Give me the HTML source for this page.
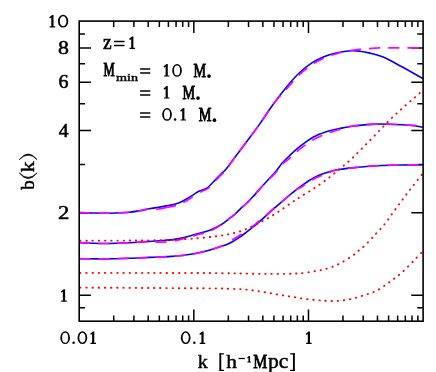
<!DOCTYPE html>
<html><head><meta charset="utf-8"><title>b(k)</title>
<style>html,body{margin:0;padding:0;background:#fff;}svg{display:block;}text{font-family:"Liberation Serif",serif;fill:#000;stroke:#000;}</style>
</head><body>
<svg width="436" height="372" viewBox="0 0 436 372">
<rect x="0" y="0" width="436" height="372" fill="#fff"/>
<defs><clipPath id="c"><rect x="79.20" y="21.10" width="343.90" height="300.10"/></clipPath></defs>
<path d="M113.71 321.20v-5.80M113.71 21.10v5.80M133.89 321.20v-5.80M133.89 21.10v5.80M148.22 321.20v-5.80M148.22 21.10v5.80M159.33 321.20v-5.80M159.33 21.10v5.80M168.40 321.20v-5.80M168.40 21.10v5.80M176.08 321.20v-5.80M176.08 21.10v5.80M182.72 321.20v-5.80M182.72 21.10v5.80M188.59 321.20v-5.80M188.59 21.10v5.80M193.83 321.20v-11.80M193.83 21.10v11.80M228.34 321.20v-5.80M228.34 21.10v5.80M248.53 321.20v-5.80M248.53 21.10v5.80M262.85 321.20v-5.80M262.85 21.10v5.80M273.96 321.20v-5.80M273.96 21.10v5.80M283.04 321.20v-5.80M283.04 21.10v5.80M290.71 321.20v-5.80M290.71 21.10v5.80M297.36 321.20v-5.80M297.36 21.10v5.80M303.22 321.20v-5.80M303.22 21.10v5.80M308.47 321.20v-11.80M308.47 21.10v11.80M342.97 321.20v-5.80M342.97 21.10v5.80M363.16 321.20v-5.80M363.16 21.10v5.80M377.48 321.20v-5.80M377.48 21.10v5.80M388.59 321.20v-5.80M388.59 21.10v5.80M397.67 321.20v-5.80M397.67 21.10v5.80M405.34 321.20v-5.80M405.34 21.10v5.80M411.99 321.20v-5.80M411.99 21.10v5.80M417.85 321.20v-5.80M417.85 21.10v5.80M79.20 307.83h5.80M423.10 307.83h-5.80M79.20 295.30h11.80M423.10 295.30h-11.80M79.20 212.85h11.80M423.10 212.85h-11.80M79.20 164.62h5.80M423.10 164.62h-5.80M79.20 130.40h11.80M423.10 130.40h-11.80M79.20 103.85h5.80M423.10 103.85h-5.80M79.20 82.16h11.80M423.10 82.16h-11.80M79.20 63.83h5.80M423.10 63.83h-5.80M79.20 47.94h11.80M423.10 47.94h-11.80M79.20 33.93h5.80M423.10 33.93h-5.80" stroke="#000" stroke-width="1.5" fill="none"/>
<g clip-path="url(#c)" fill="none">
<path d="M79.10 212.60 C81.25 212.67 87.93 212.90 92.00 213.00 C96.07 213.10 99.50 213.20 103.50 213.20 C107.50 213.20 111.72 213.15 116.00 213.00 C120.28 212.85 125.20 212.68 129.20 212.30 C133.20 211.92 136.63 211.28 140.00 210.70 C143.37 210.12 146.30 209.37 149.40 208.80 C152.50 208.23 155.83 207.78 158.60 207.30 C161.37 206.82 163.62 206.35 166.00 205.90 C168.38 205.45 170.60 205.15 172.90 204.60 C175.20 204.05 177.52 203.53 179.80 202.60 C182.08 201.67 184.32 200.33 186.60 199.00 C188.88 197.67 191.43 195.90 193.50 194.60 C195.57 193.30 197.25 192.07 199.00 191.20 C200.75 190.33 202.40 190.13 204.00 189.40 C205.60 188.67 207.02 188.07 208.60 186.80 C210.18 185.53 211.43 183.93 213.50 181.80 C215.57 179.67 218.92 176.10 221.00 174.00 C223.08 171.90 223.80 171.83 226.00 169.20 C228.20 166.57 230.73 162.82 234.20 158.20 C237.67 153.58 242.50 147.27 246.80 141.50 C251.10 135.73 255.48 129.97 260.00 123.60 C264.52 117.23 269.47 109.42 273.90 103.30 C278.33 97.18 282.38 91.95 286.60 86.90 C290.82 81.85 294.98 77.00 299.20 73.00 C303.42 69.00 307.68 65.65 311.90 62.90 C316.12 60.15 320.30 58.18 324.50 56.50 C328.70 54.82 332.68 53.75 337.10 52.80 C341.52 51.85 347.18 51.07 351.00 50.80 C354.82 50.53 357.00 50.85 360.00 51.20 C363.00 51.55 364.97 51.87 369.00 52.90 C373.03 53.93 378.72 55.08 384.20 57.40 C389.68 59.72 395.42 63.25 401.90 66.80 C408.38 70.35 419.57 76.72 423.10 78.70" stroke="#0000ff" stroke-width="1.6" stroke-linejoin="round"/>
<path d="M79.10 242.70 C81.25 242.78 87.93 243.07 92.00 243.20 C96.07 243.33 99.50 243.48 103.50 243.50 C107.50 243.52 111.72 243.43 116.00 243.30 C120.28 243.18 123.63 243.05 129.20 242.75 C134.77 242.45 144.50 241.84 149.40 241.50 C154.30 241.16 154.95 240.97 158.60 240.70 C162.25 240.43 167.08 240.42 171.30 239.90 C175.52 239.38 179.68 238.60 183.90 237.60 C188.12 236.60 192.38 235.07 196.60 233.90 C200.82 232.73 204.98 232.22 209.20 230.60 C213.42 228.98 218.67 226.12 221.90 224.20 C225.13 222.28 226.50 220.70 228.60 219.10 C230.70 217.50 232.38 216.47 234.50 214.60 C236.62 212.73 239.20 209.87 241.30 207.90 C243.40 205.93 245.00 204.85 247.10 202.80 C249.20 200.75 251.00 198.77 253.90 195.60 C256.80 192.43 260.82 187.87 264.50 183.80 C268.18 179.73 273.08 174.62 276.00 171.20 C278.92 167.78 279.97 165.67 282.00 163.30 C284.03 160.93 286.13 159.02 288.20 157.00 C290.27 154.98 292.33 153.05 294.40 151.20 C296.47 149.35 298.53 147.55 300.60 145.90 C302.67 144.25 304.73 142.73 306.80 141.30 C308.87 139.87 310.93 138.48 313.00 137.30 C315.07 136.12 317.13 135.08 319.20 134.20 C321.27 133.32 323.33 132.67 325.40 132.00 C327.47 131.33 329.35 130.75 331.60 130.20 C333.85 129.65 335.57 129.35 338.90 128.70 C342.23 128.05 347.38 126.93 351.60 126.30 C355.82 125.67 360.00 125.27 364.20 124.90 C368.40 124.53 372.63 124.22 376.80 124.10 C380.97 123.98 385.02 124.08 389.20 124.20 C393.38 124.32 397.68 124.53 401.90 124.80 C406.12 125.07 410.97 125.38 414.50 125.80 C418.03 126.22 421.67 127.05 423.10 127.30" stroke="#0000ff" stroke-width="1.6" stroke-linejoin="round"/>
<path d="M79.10 258.70 C83.17 258.73 95.15 258.97 103.50 258.90 C111.85 258.83 121.55 258.55 129.20 258.30 C136.85 258.05 144.50 257.60 149.40 257.40 C154.30 257.20 154.95 257.27 158.60 257.10 C162.25 256.93 167.08 256.70 171.30 256.40 C175.52 256.10 179.68 255.82 183.90 255.30 C188.12 254.78 192.38 254.13 196.60 253.30 C200.82 252.47 205.30 251.40 209.20 250.30 C213.10 249.20 217.17 247.63 220.00 246.70 C222.83 245.77 224.13 245.53 226.20 244.70 C228.27 243.87 230.33 242.83 232.40 241.70 C234.47 240.57 236.53 239.27 238.60 237.90 C240.67 236.53 242.73 235.05 244.80 233.50 C246.87 231.95 248.93 230.25 251.00 228.60 C253.07 226.95 255.13 225.35 257.20 223.60 C259.27 221.85 261.33 219.95 263.40 218.10 C265.47 216.25 267.83 214.08 269.60 212.50 C271.37 210.92 272.27 210.13 274.00 208.60 C275.73 207.07 278.08 204.97 280.00 203.30 C281.92 201.63 283.67 200.15 285.50 198.60 C287.33 197.05 289.25 195.47 291.00 194.00 C292.75 192.53 294.13 191.23 296.00 189.80 C297.87 188.37 300.13 186.87 302.20 185.40 C304.27 183.93 306.33 182.33 308.40 181.00 C310.47 179.67 312.53 178.47 314.60 177.40 C316.67 176.33 318.73 175.43 320.80 174.60 C322.87 173.77 324.93 173.05 327.00 172.40 C329.07 171.75 331.13 171.18 333.20 170.70 C335.27 170.22 337.33 169.85 339.40 169.50 C341.47 169.15 343.57 168.87 345.60 168.60 C347.63 168.33 348.50 168.22 351.60 167.90 C354.70 167.58 360.00 167.05 364.20 166.70 C368.40 166.35 372.63 166.03 376.80 165.80 C380.97 165.57 385.02 165.43 389.20 165.30 C393.38 165.17 396.25 165.10 401.90 165.00 C407.55 164.90 419.57 164.75 423.10 164.70" stroke="#0000ff" stroke-width="1.6" stroke-linejoin="round"/>
<path d="M79.30 212.61L80.03 212.63L81.06 212.66L82.28 212.70L83.63 212.75L85.08 212.80L86.57 212.84L88.08 212.89L89.54 212.93L90.49 212.96M98.70 213.15L99.64 213.17L100.78 213.18L101.93 213.19L103.10 213.20L104.30 213.20L105.52 213.20L106.74 213.19L107.98 213.18L109.23 213.16L109.90 213.15M118.10 212.93L119.31 212.88L120.66 212.83L122.03 212.77L123.38 212.70L124.73 212.63L126.05 212.55L127.34 212.46L128.59 212.36L129.28 212.29M137.40 211.15L138.31 210.99L139.33 210.82L140.34 210.64L141.32 210.45L142.29 210.23L143.24 210.01L144.18 209.79L145.11 209.56L146.03 209.36L146.94 209.16L147.86 209.00L148.37 208.92M183.30 202.60L183.88 202.27L184.56 201.89L185.24 201.50L185.92 201.10L186.60 200.70L187.29 200.29L188.00 199.86L188.71 199.41L189.42 198.95L190.13 198.49L190.84 198.03L191.53 197.57L192.21 197.13L192.83 196.72M200.15 192.29L200.63 192.05L201.14 191.80L201.64 191.56L202.14 191.32L202.63 191.09L203.11 190.85L203.60 190.61L204.08 190.36L204.55 190.12L205.02 189.89L205.48 189.67L205.93 189.45L206.38 189.22L206.83 188.98L207.29 188.71L207.74 188.42L208.21 188.10L208.68 187.74L209.14 187.34L209.59 186.93L209.81 186.72M215.70 180.51L216.43 179.74L217.24 178.89L218.06 178.04L218.85 177.21L219.62 176.41L220.34 175.67L221.00 175.00L221.59 174.43L222.11 173.96L222.58 173.57L223.03 173.21L223.46 172.86L223.69 172.67M228.61 166.49L229.36 165.35L230.17 164.11L231.02 162.81L231.92 161.47L232.86 160.09L233.86 158.68L234.91 157.23M239.68 150.89L240.84 149.36L242.17 147.62L243.50 145.87L244.84 144.11L246.15 142.37L246.45 141.97M251.20 135.62L252.44 133.95L253.76 132.18L255.08 130.39L256.41 128.58L257.75 126.74L257.85 126.60M262.46 120.04L263.69 118.20L265.10 116.08L266.51 113.94L267.92 111.81L268.66 110.71M273.26 104.14L274.56 102.45L275.87 100.82L277.16 99.27L278.44 97.80L279.70 96.39L280.45 95.57M285.90 89.68L287.02 88.43L288.28 86.99L289.54 85.55L290.80 84.09L292.06 82.65L293.28 81.25M298.80 75.38L300.04 74.21L301.31 73.05L302.58 71.93L303.85 70.85L305.13 69.80L306.40 68.79L307.30 68.10M313.91 63.49L315.06 62.78L316.32 62.04L317.58 61.33L318.84 60.65L320.09 60.00L321.35 59.37L322.61 58.77L323.78 58.22M331.30 55.33L332.40 54.97L333.67 54.56L334.88 54.19L336.03 53.83L337.10 53.50L338.08 53.20L338.99 52.93L339.83 52.70L340.62 52.49L341.37 52.30L342.03 52.14M349.91 50.67L350.63 50.57L351.38 50.46L352.13 50.35L352.87 50.25L353.61 50.14L354.34 50.03L355.07 49.92L355.79 49.82L356.52 49.72L357.26 49.62L358.02 49.52L358.79 49.43L359.59 49.34L360.41 49.26L361.01 49.20M369.00 48.60L370.00 48.53L371.01 48.45L372.03 48.37L373.06 48.29L374.12 48.21L375.22 48.14L376.34 48.07L377.51 48.00L378.73 47.95L380.00 47.90L380.18 47.89M388.19 47.80L389.68 47.80L391.39 47.80L393.28 47.80L395.37 47.80L397.85 47.80L399.39 47.79M407.40 47.79L410.54 47.79L413.78 47.80L416.81 47.80L418.60 47.80M155.80 208.98L156.58 209.02L157.47 209.04L158.32 209.02L159.15 208.95L159.94 208.86L160.72 208.74L161.47 208.60L162.20 208.45L162.92 208.28L163.64 208.12L164.35 207.95L165.05 207.79L165.76 207.65L166.47 207.51L167.18 207.39L167.88 207.26L168.57 207.15L169.25 207.03L169.94 206.91L170.62 206.78L171.30 206.65L171.98 206.51L172.67 206.35L173.36 206.19L174.05 206.03L174.74 205.86L175.43 205.69L176.00 205.54" stroke="#ff00ff" stroke-width="1.7"/>
<path d="M79.30 242.71L80.03 242.74L81.06 242.78L82.28 242.83L83.63 242.88L85.08 242.94L86.57 243.00L88.08 243.06L89.54 243.11L90.49 243.15M98.36 243.41L99.46 243.44L100.59 243.46L101.73 243.48L102.90 243.50L104.10 243.50L105.31 243.50L106.54 243.49L107.77 243.48L109.02 243.46L109.56 243.45M117.43 243.26L118.48 243.22L119.69 243.18L120.89 243.14L122.12 243.09L123.38 243.04L124.70 242.98L126.10 242.91L127.59 242.83L128.62 242.78M136.48 242.27L138.43 242.13L140.67 241.97L142.86 241.82L144.96 241.69L146.90 241.59L147.66 241.55M155.50 241.98L156.18 242.07L156.99 242.15L157.91 242.19L158.97 242.20L160.12 242.18L161.33 242.16L162.58 242.12L163.87 242.06L165.18 241.99L166.50 241.90L166.68 241.89M174.60 240.83L175.71 240.60L176.97 240.33L178.23 240.03L179.49 239.73L180.75 239.41L182.01 239.09L183.27 238.76L184.53 238.43L185.48 238.18M193.14 235.91L194.28 235.57L195.54 235.20L196.81 234.84L198.07 234.52L199.33 234.23L200.59 233.97L201.85 233.70L203.11 233.44L204.01 233.23M211.50 230.52L212.74 229.86L214.10 229.09L215.47 228.29L216.81 227.46L218.11 226.65L219.35 225.85L220.51 225.10L221.08 224.73M227.70 219.80L228.29 219.34L228.91 218.86L229.52 218.41L230.11 217.98L230.69 217.57L231.26 217.16L231.83 216.74L232.40 216.31L232.98 215.87L233.57 215.39L234.19 214.87L234.82 214.31L235.48 213.70L236.16 213.04L236.42 212.79M242.30 206.99L242.80 206.56L243.36 206.08L243.92 205.61L244.48 205.15L245.04 204.68L245.60 204.19L246.19 203.66L246.79 203.10L247.41 202.49L248.03 201.88L248.64 201.26L249.25 200.62L249.88 199.96L250.46 199.34M256.09 193.15L256.94 192.19L258.00 190.99L259.09 189.76L260.20 188.50L261.32 187.25L262.45 186.00L263.56 184.80M269.47 178.88L270.54 177.86L271.75 176.69L272.93 175.55L274.04 174.45L275.07 173.40L276.00 172.40L276.82 171.45L277.29 170.88M282.30 164.19L282.82 163.70L283.43 163.17L284.05 162.68L284.67 162.22L285.30 161.77L285.92 161.34L286.54 160.89L287.16 160.43L287.79 159.95L288.41 159.42L289.03 158.87L289.65 158.30L290.27 157.71L290.89 157.12L290.93 157.08M296.77 151.71L297.29 151.25L297.91 150.72L298.53 150.20L299.15 149.68L299.77 149.17L300.39 148.67L301.01 148.17L301.63 147.69L302.25 147.21L302.87 146.74L303.49 146.27L304.11 145.81L304.73 145.36L305.35 144.92L305.55 144.77M312.16 140.39L312.69 140.08L313.31 139.72L313.93 139.39L314.55 139.06L315.17 138.74L315.79 138.44L316.41 138.14L317.03 137.84L317.65 137.55L318.27 137.25L318.89 136.95L319.51 136.65L320.13 136.33L320.75 136.01L321.37 135.69L321.99 135.38L322.14 135.30M329.56 132.57L330.18 132.40L330.83 132.23L331.49 132.03L332.15 131.83L332.80 131.62L333.43 131.42L334.07 131.20L334.73 130.99L335.42 130.76L336.15 130.53L336.94 130.28L337.80 130.02L338.73 129.75L339.77 129.45L340.27 129.30M347.90 127.14L349.20 126.82L350.53 126.52L351.81 126.26L353.07 126.04L354.34 125.85L355.60 125.69L356.86 125.54L358.12 125.42L358.94 125.34M366.89 124.67L367.99 124.59L369.25 124.49L370.51 124.41L371.77 124.33L373.03 124.25L374.29 124.19L375.55 124.14L376.80 124.10L378.05 124.07L378.07 124.07M386.04 124.12L387.12 124.14L388.37 124.18L389.62 124.21L390.88 124.25L392.14 124.31L393.41 124.36L394.69 124.43L395.96 124.49L397.24 124.56M405.20 124.97L406.48 125.03L407.80 125.10L409.11 125.17L410.39 125.23L411.63 125.29L412.83 125.34L413.96 125.38L415.03 125.41L416.09 125.43L416.39 125.44" stroke="#ff00ff" stroke-width="1.7"/>
<path d="M79.30 258.70L80.55 258.72L82.40 258.74L84.59 258.77L87.04 258.80L89.69 258.84L90.50 258.85M98.36 258.91L100.90 258.91L103.50 258.90L106.04 258.87L108.64 258.84L109.56 258.82M117.41 258.65L119.69 258.59L122.28 258.51L124.81 258.44L127.25 258.36L128.61 258.32M136.46 258.01L138.56 257.92L140.68 257.81L142.71 257.71L144.64 257.62L146.44 257.53L147.65 257.48M155.50 257.21L156.18 257.19L156.99 257.17L157.91 257.13L158.97 257.08L160.12 257.03L161.33 256.97L162.58 256.91L163.87 256.85L165.18 256.78L166.50 256.70L166.69 256.69M174.68 256.16L175.92 256.06L177.18 255.97L178.44 255.86L179.70 255.75L180.96 255.63L182.22 255.49L183.48 255.35L184.74 255.19L185.82 255.06M193.74 253.84L194.91 253.62L196.18 253.38L197.45 253.13L198.73 252.86L200.01 252.59L201.30 252.30L202.59 252.00L203.87 251.69L204.69 251.49M212.40 249.32L213.49 248.96L214.63 248.57L215.74 248.18L216.81 247.80L217.83 247.44L218.80 247.10L219.71 246.80L220.55 246.53L221.30 246.31L221.98 246.13L222.61 245.97L223.05 245.87M232.21 239.94L232.81 239.52L233.43 239.11L234.05 238.72L234.67 238.35L235.29 237.99L235.91 237.63L236.53 237.27L237.15 236.90L237.77 236.53L238.39 236.14L239.01 235.72L239.63 235.30L240.25 234.86L240.87 234.41L241.49 233.96L241.61 233.87M250.80 227.74L251.41 227.30L252.03 226.82L252.65 226.34L253.27 225.84L253.89 225.33L254.51 224.82L255.13 224.30L255.75 223.79L256.37 223.27L256.99 222.77L257.61 222.27L258.23 221.77L258.85 221.28L259.47 220.79L259.54 220.74M266.03 215.26L266.61 214.73L267.25 214.15L267.87 213.57L268.48 213.02L269.05 212.49L269.60 212.00L270.11 211.55L270.57 211.13L271.00 210.73L271.41 210.36L271.81 210.00L272.21 209.64L272.62 209.28L273.05 208.91L273.50 208.52L274.00 208.10L274.38 207.79M281.00 202.46L281.50 202.04L282.05 201.57L282.60 201.09L283.14 200.62L283.69 200.16L284.23 199.69L284.77 199.22L285.32 198.76L285.87 198.29L286.42 197.82L286.98 197.36L287.54 196.89L288.10 196.42L288.65 195.96L289.20 195.50L289.54 195.22M295.59 190.08L296.09 189.74L296.67 189.39L297.26 189.06L297.87 188.75L298.50 188.46L299.13 188.16L299.77 187.87L300.41 187.57L301.05 187.25L301.68 186.91L302.30 186.54L302.92 186.14L303.54 185.71L304.16 185.27L304.78 184.81L305.24 184.47M311.85 180.10L312.43 179.77L313.05 179.43L313.67 179.09L314.29 178.76L314.91 178.44L315.53 178.13L316.15 177.83L316.77 177.54L317.39 177.25L318.01 176.97L318.63 176.70L319.25 176.44L319.87 176.18L320.49 175.93L321.11 175.68L321.73 175.44L321.99 175.35M329.36 172.47L329.89 172.19L330.51 171.88L331.13 171.57L331.75 171.27L332.37 171.01L332.99 170.77L333.61 170.57L334.23 170.40L334.85 170.25L335.47 170.12L336.09 170.01L336.71 169.91L337.33 169.81L337.95 169.72L338.57 169.63L339.19 169.53L339.81 169.43L340.04 169.39M347.90 168.30L348.37 168.25L348.92 168.18L349.53 168.12L350.22 168.04L351.01 167.96L351.92 167.87L352.95 167.76L354.09 167.65L355.31 167.53L356.60 167.40L357.94 167.27L359.04 167.16M367.65 166.42L368.83 166.33L370.09 166.24L371.35 166.15L372.61 166.06L373.87 165.98L375.13 165.90L376.38 165.82L377.63 165.75L378.83 165.69M387.46 165.36L388.57 165.32L389.82 165.28L391.01 165.24L392.15 165.21L393.28 165.18L394.42 165.15L395.59 165.12L396.81 165.10L398.12 165.07L398.66 165.06M407.30 164.92L409.54 164.88L412.04 164.85L414.53 164.81L416.91 164.78L418.50 164.76" stroke="#ff00ff" stroke-width="1.7"/>
<path d="M79.10 240.70 C85.92 240.68 108.85 240.65 120.00 240.60 C131.15 240.55 137.45 240.53 146.00 240.40 C154.55 240.27 162.87 240.15 171.30 239.80 C179.73 239.45 189.15 238.88 196.60 238.30 C204.05 237.72 210.67 236.98 216.00 236.30 C221.33 235.62 224.38 235.08 228.60 234.20 C232.82 233.32 237.08 232.43 241.30 231.00 C245.52 229.57 249.68 227.62 253.90 225.60 C258.12 223.58 262.38 221.30 266.60 218.90 C270.82 216.50 274.98 213.95 279.20 211.20 C283.42 208.45 288.22 204.88 291.90 202.40 C295.58 199.92 297.63 198.63 301.30 196.30 C304.97 193.97 309.68 191.20 313.90 188.40 C318.12 185.60 322.38 182.67 326.60 179.50 C330.82 176.33 335.03 172.85 339.20 169.40 C343.37 165.95 347.43 162.67 351.60 158.80 C355.77 154.93 360.00 150.43 364.20 146.20 C368.40 141.97 372.63 137.68 376.80 133.40 C380.97 129.12 385.02 124.63 389.20 120.50 C393.38 116.37 397.68 112.40 401.90 108.60 C406.12 104.80 410.97 100.77 414.50 97.70 C418.03 94.63 421.67 91.45 423.10 90.20" stroke="#ff0000" stroke-width="1.9" stroke-dasharray="0.4 5.7649" stroke-linecap="round" stroke-dashoffset="-1.2"/>
<path d="M79.10 272.90 C90.92 272.90 127.18 272.87 150.00 272.90 C172.82 272.93 200.78 273.00 216.00 273.10 C231.22 273.20 232.87 273.37 241.30 273.50 C249.73 273.63 258.17 273.87 266.60 273.90 C275.03 273.93 285.58 273.87 291.90 273.70 C298.22 273.53 300.30 273.38 304.50 272.90 C308.70 272.42 313.52 271.47 317.10 270.80 C320.68 270.13 322.42 270.02 326.00 268.90 C329.58 267.78 334.38 266.17 338.60 264.10 C342.82 262.03 347.92 258.77 351.30 256.50 C354.68 254.23 356.80 252.18 358.90 250.50 C361.00 248.82 361.80 248.38 363.90 246.40 C366.00 244.42 369.38 240.83 371.50 238.60 C373.62 236.37 374.48 235.32 376.60 233.00 C378.72 230.68 380.83 228.97 384.20 224.70 C387.57 220.43 392.60 213.10 396.80 207.40 C401.00 201.70 405.02 196.23 409.40 190.50 C413.78 184.77 420.82 175.92 423.10 173.00" stroke="#ff0000" stroke-width="1.9" stroke-dasharray="0.4 5.7653" stroke-linecap="round" stroke-dashoffset="-1.2"/>
<path d="M79.10 287.60 C90.92 287.67 127.18 287.87 150.00 288.00 C172.82 288.13 202.90 288.28 216.00 288.40 C229.10 288.52 224.38 288.57 228.60 288.70 C232.82 288.83 237.08 288.90 241.30 289.20 C245.52 289.50 249.68 289.95 253.90 290.50 C258.12 291.05 262.38 291.78 266.60 292.50 C270.82 293.22 274.98 294.08 279.20 294.80 C283.42 295.52 287.68 296.13 291.90 296.80 C296.12 297.47 300.30 298.25 304.50 298.80 C308.70 299.35 313.52 299.77 317.10 300.10 C320.68 300.43 322.42 300.68 326.00 300.80 C329.58 300.92 334.38 301.10 338.60 300.80 C342.82 300.50 347.08 299.93 351.30 299.00 C355.52 298.07 359.68 296.58 363.90 295.20 C368.12 293.82 372.38 292.85 376.60 290.70 C380.82 288.55 384.98 285.33 389.20 282.30 C393.42 279.27 397.68 276.25 401.90 272.50 C406.12 268.75 410.97 263.38 414.50 259.80 C418.03 256.22 421.67 252.47 423.10 251.00" stroke="#ff0000" stroke-width="1.9" stroke-dasharray="0.4 5.7500" stroke-linecap="round" stroke-dashoffset="-1.2"/>
</g>
<rect x="79.20" y="21.10" width="343.90" height="300.10" fill="none" stroke="#000" stroke-width="1.6"/>
<g opacity="0.999">
<path d="M53.50 14.90L52.15 14.90L49.25 17.20L50.00 18.60L51.30 17.50V26.20H49.65V27.40H55.15V26.20H53.50Z" fill="#000" stroke="none"/>
<path fill-rule="evenodd" fill="#000" stroke="none" d="M57.90 21.20A5.20 6.35 0 1 0 68.30 21.20A5.20 6.35 0 1 0 57.90 21.20ZM59.70 21.20A3.40 4.95 0 1 0 66.50 21.20A3.40 4.95 0 1 0 59.70 21.20Z"/>
<text transform="translate(58.03,54.24) scale(1.1628,1.000)" font-size="18.80" stroke-width="0.52">8</text>
<text transform="translate(58.40,88.46) scale(1.0638,1.000)" font-size="18.80" stroke-width="0.56">6</text>
<text transform="translate(58.71,136.70) scale(1.0412,1.000)" font-size="18.80" stroke-width="0.58">4</text>
<text transform="translate(58.09,219.15) scale(1.2083,1.000)" font-size="18.80" stroke-width="0.50">2</text>
<path d="M65.10 289.15L63.75 289.15L60.85 291.45L61.60 292.85L62.90 291.75V300.45H61.25V301.65H66.75V300.45H65.10Z" fill="#000" stroke="none"/>
<path fill-rule="evenodd" fill="#000" stroke="none" d="M60.30 337.70A4.85 6.35 0 1 0 70.00 337.70A4.85 6.35 0 1 0 60.30 337.70ZM62.10 337.70A3.05 4.95 0 1 0 68.20 337.70A3.05 4.95 0 1 0 62.10 337.70Z"/>
<circle cx="73.60" cy="342.70" r="1.25" fill="#000"/>
<path fill-rule="evenodd" fill="#000" stroke="none" d="M77.50 337.70A4.90 6.35 0 1 0 87.30 337.70A4.90 6.35 0 1 0 77.50 337.70ZM79.30 337.70A3.10 4.95 0 1 0 85.50 337.70A3.10 4.95 0 1 0 79.30 337.70Z"/>
<path d="M94.30 331.40L92.95 331.40L90.05 333.70L90.80 335.10L92.10 334.00V342.70H90.45V343.90H95.95V342.70H94.30Z" fill="#000" stroke="none"/>
<path fill-rule="evenodd" fill="#000" stroke="none" d="M180.80 337.70A4.90 6.35 0 1 0 190.60 337.70A4.90 6.35 0 1 0 180.80 337.70ZM182.60 337.70A3.10 4.95 0 1 0 188.80 337.70A3.10 4.95 0 1 0 182.60 337.70Z"/>
<circle cx="194.30" cy="342.70" r="1.25" fill="#000"/>
<path d="M203.60 331.40L202.25 331.40L199.35 333.70L200.10 335.10L201.40 334.00V342.70H199.75V343.90H205.25V342.70H203.60Z" fill="#000" stroke="none"/>
<path d="M310.00 331.40L308.65 331.40L305.75 333.70L306.50 335.10L307.80 334.00V342.70H306.15V343.90H311.65V342.70H310.00Z" fill="#000" stroke="none"/>
<text transform="translate(197.65,367.80) scale(1.0638,1.000)" font-size="18.80" stroke-width="0.47">k</text>
<path d="M220.3 353.2V371" stroke="#000" stroke-width="1.9" fill="none"/><path d="M219.4 353.8H223.9M219.4 370.4H223.9" stroke="#000" stroke-width="1.25" fill="none"/>
<text transform="translate(226.14,367.80) scale(1.1406,1.000)" font-size="18.80" stroke-width="0.44">h</text>
<path d="M238.5 358.5H244.9" stroke="#000" stroke-width="1.3" fill="none"/>
<path d="M250.00 355.90L249.03 355.90L247.06 357.46L247.57 358.42L248.40 357.67V361.50H247.40V362.60H251.00V361.50H250.00Z" fill="#000" stroke="none"/>
<text transform="translate(253.36,367.80) scale(0.8345,1.000)" font-size="18.80" stroke-width="0.84">M</text>
<text transform="translate(268.03,367.80) scale(1.1466,1.080)" font-size="18.80" stroke-width="0.44">p</text>
<text transform="translate(278.79,367.80) scale(1.1478,1.080)" font-size="18.80" stroke-width="0.44">c</text>
<path d="M293.9 353.2V371" stroke="#000" stroke-width="1.9" fill="none"/><path d="M294.8 353.8H290.2M294.8 370.4H290.2" stroke="#000" stroke-width="1.25" fill="none"/>
<g transform="translate(33.6,0) rotate(-90)">
<text transform="translate(-189.75,0.00) scale(1.0066,1.000)" font-size="18.80" stroke-width="0.50">b</text>
<text transform="translate(-172.59,0.00) scale(1.1954,1.000)" font-size="18.80" stroke-width="0.42">k</text>
</g>
<path d="M19.3 172.9Q28.2 184.2 37.1 172.9Q28.2 181.8 19.3 172.9Z" fill="#000" stroke="#000" stroke-width="0.7" stroke-linejoin="round"/>
<path d="M19.3 159.6Q28.2 148.3 37.1 159.6Q28.2 150.7 19.3 159.6Z" fill="#000" stroke="#000" stroke-width="0.7" stroke-linejoin="round"/>
<text transform="translate(102.91,49.00) scale(1.0369,1.060)" font-size="18.80" stroke-width="0.58">z</text>
<path d="M114.00 41.50H124.60M114.00 45.55H124.60" stroke="#000" stroke-width="1.5" fill="none"/>
<path d="M133.40 36.50L132.05 36.50L129.15 38.80L129.90 40.20L131.20 39.10V47.80H129.55V49.00H135.05V47.80H133.40Z" fill="#000" stroke="none"/>
<text transform="translate(103.44,76.40) scale(0.6689,1.000)" font-size="18.80" stroke-width="1.05">M</text>
<text transform="translate(116.09,81.40) scale(1.2483,1.000)" font-size="11.30" stroke-width="0.44">min</text>
<path d="M140.10 69.00H150.30M140.10 73.05H150.30" stroke="#000" stroke-width="1.5" fill="none"/>
<path d="M140.10 91.00H150.30M140.10 95.05H150.30" stroke="#000" stroke-width="1.5" fill="none"/>
<path d="M140.10 113.00H150.30M140.10 117.05H150.30" stroke="#000" stroke-width="1.5" fill="none"/>
<path d="M167.80 64.10L166.45 64.10L163.55 66.40L164.30 67.80L165.60 66.70V75.40H163.95V76.60H169.45V75.40H167.80Z" fill="#000" stroke="none"/>
<path fill-rule="evenodd" fill="#000" stroke="none" d="M172.20 70.40A4.85 6.35 0 1 0 181.90 70.40A4.85 6.35 0 1 0 172.20 70.40ZM174.00 70.40A3.05 4.95 0 1 0 180.10 70.40A3.05 4.95 0 1 0 174.00 70.40Z"/>
<text transform="translate(193.50,76.50) scale(0.7517,1.000)" font-size="18.80" stroke-width="0.93">M</text>
<circle cx="209.00" cy="76.10" r="1.85" fill="#000"/>
<path d="M167.80 86.10L166.45 86.10L163.55 88.40L164.30 89.80L165.60 88.70V97.40H163.95V98.60H169.45V97.40H167.80Z" fill="#000" stroke="none"/>
<text transform="translate(182.40,98.60) scale(0.7517,1.000)" font-size="18.80" stroke-width="0.93">M</text>
<circle cx="198.00" cy="98.10" r="1.85" fill="#000"/>
<path fill-rule="evenodd" fill="#000" stroke="none" d="M162.20 114.40A4.85 6.35 0 1 0 171.90 114.40A4.85 6.35 0 1 0 162.20 114.40ZM164.00 114.40A3.05 4.95 0 1 0 170.10 114.40A3.05 4.95 0 1 0 164.00 114.40Z"/>
<circle cx="175.10" cy="119.40" r="1.25" fill="#000"/>
<path d="M184.40 108.10L183.05 108.10L180.15 110.40L180.90 111.80L182.20 110.70V119.40H180.55V120.60H186.05V119.40H184.40Z" fill="#000" stroke="none"/>
<text transform="translate(198.79,120.60) scale(0.7581,1.000)" font-size="18.80" stroke-width="0.92">M</text>
<circle cx="214.40" cy="120.20" r="1.85" fill="#000"/>
</g>
</svg></body></html>
